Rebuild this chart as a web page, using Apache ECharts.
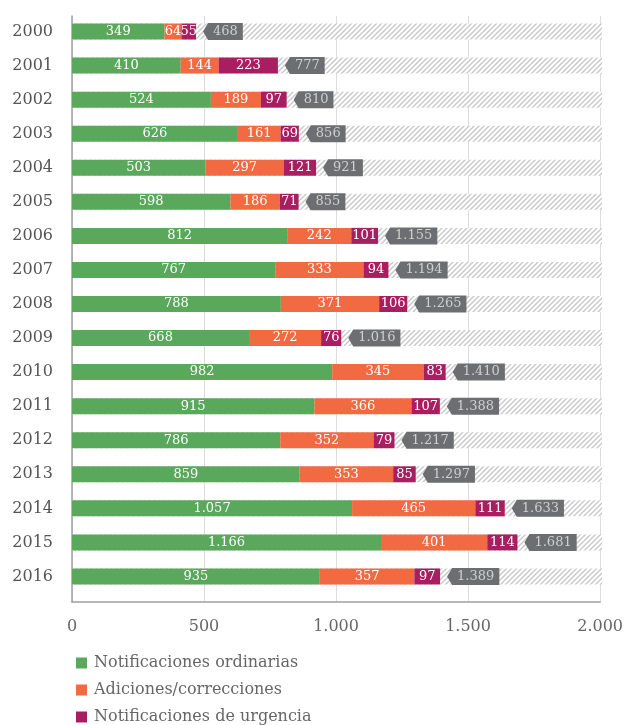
<!DOCTYPE html>
<html><head><meta charset="utf-8">
<script src="https://cdn.jsdelivr.net/npm/echarts@6/dist/echarts.min.js"></script>
<style>html,body{margin:0;padding:0;background:#fff}#c{width:626px;height:725px}</style>
</head><body><div id="c"></div>
<script>
const years = ['2000','2001','2002','2003','2004','2005','2006','2007','2008','2009','2010','2011','2012','2013','2014','2015','2016'];
const ordinarias = [349,410,524,626,503,598,812,767,788,668,982,915,786,859,1057,1166,935];
const adiciones = [64,144,189,161,297,186,242,333,371,272,345,366,352,353,465,401,357];
const urgencia = [55,223,97,69,121,71,101,94,106,76,83,107,79,85,111,114,97];
const totales = [468,777,810,856,921,855,1155,1194,1265,1016,1410,1388,1217,1297,1633,1681,1389];
const axisMax = 2000;
const axisStep = 500;
const seriesNames = ['Notificaciones ordinarias','Adiciones/correcciones','Notificaciones de urgencia'];

const FONT = '"DejaVu Serif", serif';
const fmt = n => String(n).replace(/\B(?=(\d{3})+(?!\d))/g, '.');

// hatch pattern
const pc = document.createElement('canvas');
pc.width = 5; pc.height = 5;
const g = pc.getContext('2d');
g.fillStyle = '#ffffff'; g.fillRect(0,0,5,5);
g.strokeStyle = '#c8c8c8'; g.lineWidth = 1.4;
g.beginPath();
g.moveTo(-1,6); g.lineTo(6,-1);
g.moveTo(-1,1); g.lineTo(1,-1);
g.moveTo(4,6); g.lineTo(6,4);
g.stroke();

const mc = document.createElement('canvas').getContext('2d');
mc.font = '13px ' + FONT;

const chart = echarts.init(document.getElementById('c'), null, {renderer:'canvas'});
const labelStyle = {show:true, position:'inside', color:'#fff', fontSize:13, fontFamily:FONT, formatter: p => fmt(p.value)};
const colors = ['#5aa85b','#f26a42','#a81e60'];
const legendTops = [650, 677, 704];
chart.setOption({
  animation:false,
  legend: seriesNames.map((n,i) => ({
    data:[n], orient:'vertical', left:71, top:legendTops[i], itemWidth:11, itemHeight:11,
    icon:'rect', textStyle:{color:'#666', fontSize:16, fontFamily:FONT, padding:[0,0,0,2]}
  })),
  grid:[
    {left:72, right:24, top:14.5, bottom:131.5},
    {left:72, right:24, top:16, bottom:123}
  ],
  xAxis:[
    {type:'value', gridIndex:0, min:0, max:axisMax, interval:axisStep, show:false},
    {type:'value', gridIndex:1, min:0, max:axisMax, interval:axisStep,
     axisLine:{show:true, lineStyle:{color:'#a0a0a0', width:1.5}}, axisTick:{show:false},
     splitLine:{show:true, lineStyle:{color:'#dcdcdc', width:1}},
     axisLabel:{color:'#666', fontSize:16, fontFamily:FONT, margin:17, formatter: v => fmt(v)}}
  ],
  yAxis:[
    {type:'category', gridIndex:0, data:years, inverse:true, axisLine:{show:false}, axisTick:{show:false},
     axisLabel:{color:'#555', fontSize:16, fontFamily:FONT, margin:19}},
    {type:'value', gridIndex:1, min:0, max:1, axisLine:{show:true, lineStyle:{color:'#a0a0a0', width:1.5}},
     axisTick:{show:false}, axisLabel:{show:false}, splitLine:{show:false}}
  ],
  series:[
    {type:'bar', name:'bg', xAxisIndex:0, yAxisIndex:0, data: years.map(()=>axisMax), barWidth:16, barGap:'-100%', silent:true,
     itemStyle:{color:{image:pc, repeat:'repeat'}}, z:1},
    {type:'bar', name:seriesNames[0], stack:'t', data:ordinarias, barWidth:16, barGap:'-100%', itemStyle:{color:colors[0]}, label:labelStyle, z:2},
    {type:'bar', name:seriesNames[1], stack:'t', data:adiciones, barWidth:16, barGap:'-100%', itemStyle:{color:colors[1]}, label:labelStyle, z:2},
    {type:'bar', name:seriesNames[2], stack:'t', data:urgencia, barWidth:16, barGap:'-100%', itemStyle:{color:colors[2]}, label:labelStyle, z:2},
    {type:'custom', name:'total', xAxisIndex:0, yAxisIndex:0, data: totales.map((t,i)=>[t,i]), encode:{x:0,y:1}, z:5, silent:true,
     renderItem:function(params, api){
       const p = api.coord([api.value(0), api.value(1)]);
       const h = 17, d = 5;
       const txt = fmt(api.value(0));
       const tw = mc.measureText(txt).width;
       const x0 = p[0] + 7, w = tw + 10;
       const y = p[1];
       return {type:'group', children:[
         {type:'polygon', shape:{points:[[x0,y],[x0+d,y-h/2],[x0+d+w,y-h/2],[x0+d+w,y+h/2],[x0+d,y+h/2]]}, style:{fill:'#6d6e71'}},
         {type:'text', style:{text:txt, x:x0+d+w/2, y:y, align:'center', verticalAlign:'middle', fill:'#cfcfcf', fontSize:13, fontFamily:FONT}}
       ]};
     }}
  ]
});
</script></body></html>
